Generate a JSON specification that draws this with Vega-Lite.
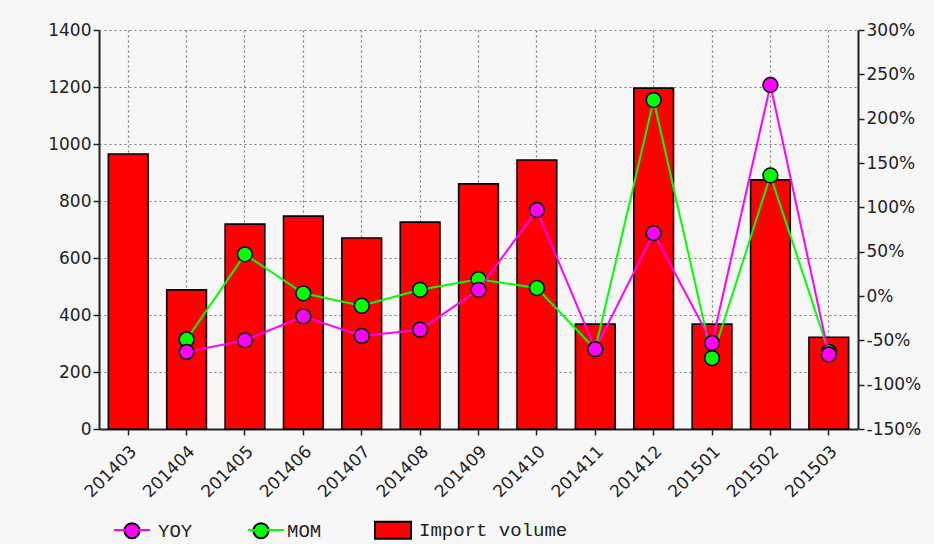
{
  "$schema": "https://vega.github.io/schema/vega-lite/v6.json",
  "width": 759,
  "height": 399,
  "autosize": {"type": "none"},
  "padding": {"left": 99, "top": 30, "right": 76, "bottom": 115},
  "background": "#f7f7f7",
  "config": {
    "view": {"stroke": null, "fill": "#f7f7f7"},
    "axis": {
      "labelFont": "DejaVu Sans",
      "labelFontSize": 17,
      "labelColor": "#222222",
      "domainColor": "#222222",
      "domainWidth": 2,
      "tickColor": "#222222",
      "tickWidth": 1.5,
      "tickSize": 6,
      "gridColor": "#7a7a7a",
      "gridDash": [2, 3],
      "gridWidth": 1.2,
      "gridOpacity": 1,
      "title": null
    }
  },
  "data": {
    "values": [
      {"month": "201403", "volume": 965, "yoy": null, "mom": null},
      {"month": "201404", "volume": 488, "yoy": -63, "mom": -49},
      {"month": "201405", "volume": 719, "yoy": -50, "mom": 47},
      {"month": "201406", "volume": 747, "yoy": -23, "mom": 3},
      {"month": "201407", "volume": 670, "yoy": -45, "mom": -11},
      {"month": "201408", "volume": 726, "yoy": -38, "mom": 7},
      {"month": "201409", "volume": 860, "yoy": 7, "mom": 19},
      {"month": "201410", "volume": 944, "yoy": 97, "mom": 9},
      {"month": "201411", "volume": 368, "yoy": -60, "mom": -60},
      {"month": "201412", "volume": 1196, "yoy": 71, "mom": 221},
      {"month": "201501", "volume": 368, "yoy": -53, "mom": -70},
      {"month": "201502", "volume": 874, "yoy": 238, "mom": 136},
      {"month": "201503", "volume": 322, "yoy": -66, "mom": -63}
    ]
  },
  "encoding": {
    "x": {
      "field": "month",
      "type": "ordinal",
      "sort": null,
      "scale": {"paddingInner": 0.32, "paddingOuter": 0.16},
      "axis": {
        "labelAngle": -45,
        "grid": true,
        "bandPosition": 0.5,
        "labelPadding": 8,
        "domainWidth": 2
      }
    }
  },
  "layer": [
    {
      "mark": {"type": "bar", "stroke": "#000000", "strokeWidth": 1.6},
      "encoding": {
        "y": {
          "field": "volume",
          "type": "quantitative",
          "scale": {"domain": [0, 1400], "nice": false},
          "axis": {"values": [0, 200, 400, 600, 800, 1000, 1200, 1400], "format": "d", "grid": true}
        },
        "fill": {
          "datum": "Import volume",
          "scale": {
            "domain": ["YOY", "MOM", "Import volume"],
            "range": ["#ff00ff", "#00ff00", "#ff0000"]
          },
          "legend": {
            "orient": "none",
            "legendX": 14,
            "legendY": 481,
            "direction": "horizontal",
            "title": null,
            "labelFont": "Liberation Mono",
            "labelFontSize": 19,
            "labelColor": "#222222",
            "labelOffset": 7,
            "columnPadding": 49,
            "symbolSize": 1296,
            "symbolStrokeColor": "#000000",
            "symbolStrokeWidth": 2,
            "symbolOpacity": 1,
            "encode": {
              "symbols": {
                "update": {
                  "shape": {"signal": "datum.value === 'Import volume' ? 'M-1,-0.47L1,-0.47L1,0.47L-1,0.47Z' : 'M-0.42,0A0.42,0.42,0,1,1,0.42,0A0.42,0.42,0,1,1,-0.42,0Z'"},
                  "stroke": {"value": "#000000"},
                  "strokeWidth": {"value": 2}
                }
              }
            }
          }
        }
      }
    },
    {
      "encoding": {
        "y": {
          "type": "quantitative",
          "scale": {"domain": [-150, 300], "nice": false},
          "axis": {
            "orient": "right",
            "values": [-150, -100, -50, 0, 50, 100, 150, 200, 250, 300],
            "labelExpr": "datum.value + '%'",
            "grid": false
          }
        }
      },
      "layer": [
        {
          "mark": {"type": "line", "strokeWidth": 2},
          "encoding": {
            "y": {"field": "mom", "type": "quantitative"},
            "color": {
              "datum": "MOM",
              "scale": {
                "domain": ["YOY", "MOM"],
                "range": ["#ff00ff", "#00ff00"]
              },
              "legend": {
                "orient": "none",
                "legendX": 14,
                "legendY": 481,
                "direction": "horizontal",
                "title": null,
                "labelExpr": "''",
                "labelFontSize": 19,
                "labelOffset": 0,
                "columnPadding": 90,
                "symbolType": "stroke",
                "symbolSize": 1296,
                "symbolStrokeWidth": 2
              }
            }
          }
        },
        {
          "mark": {"type": "circle", "stroke": "#000000", "strokeWidth": 1.5, "opacity": 1, "size": 220},
          "encoding": {"y": {"field": "mom", "type": "quantitative"}, "fill": {"datum": "MOM"}}
        },
        {
          "mark": {"type": "line", "strokeWidth": 2},
          "encoding": {"y": {"field": "yoy", "type": "quantitative"}, "color": {"datum": "YOY"}}
        },
        {
          "mark": {"type": "circle", "stroke": "#000000", "strokeWidth": 1.5, "opacity": 1, "size": 220},
          "encoding": {"y": {"field": "yoy", "type": "quantitative"}, "fill": {"datum": "YOY"}}
        }
      ]
    }
  ],
  "resolve": {"scale": {"y": "independent"}}
}
